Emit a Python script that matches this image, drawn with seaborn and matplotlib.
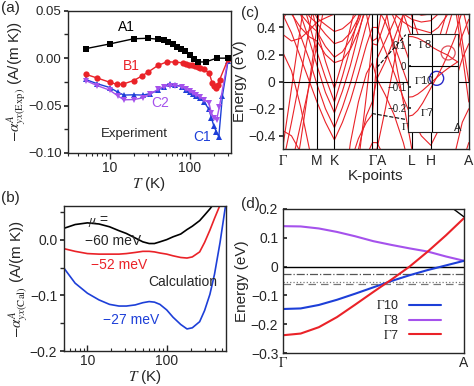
import matplotlib
matplotlib.use("Agg")
import matplotlib.pyplot as plt
from matplotlib.patches import Ellipse
from matplotlib.lines import Line2D
from matplotlib.ticker import FixedLocator, MultipleLocator, NullFormatter, LogLocator
import numpy as np
import seaborn as sns

# ─── (a) experiment ──────────────────────────────────────────────────────
T_A1 = [5, 10, 20, 30, 40, 47, 54, 62, 70, 78, 87, 100, 113, 127, 158, 216, 300]
A1 = [0.010, 0.015, 0.0205, 0.021, 0.020, 0.0187, 0.017, 0.015, 0.012, 0.0095,
      0.0074, 0.003, -0.0014, -0.004, -0.004, 0.0, 0.0]
T_B1 = [5, 7, 10, 12.5, 14.5, 20, 25, 30, 40, 52, 65, 82, 90, 98, 106, 115, 125,
        135, 150, 175, 190, 200, 210, 225, 235, 300]
B1 = [-0.017, -0.021, -0.0254, -0.0278, -0.0275, -0.0236, -0.019, -0.0148, -0.0077,
      -0.0038, -0.0042, -0.0049, -0.0058, -0.0068, -0.0075, -0.0085, -0.0092, -0.0100,
      -0.0115, -0.016, -0.026, -0.029, -0.031, -0.028, -0.023, -0.001]
T_C2 = [5, 7, 10, 12.7, 15, 20, 26, 32, 40, 47, 56, 65, 79, 90, 100, 110, 120, 135,
        150, 173, 186, 200, 216, 233, 300]
C2 = [-0.0236, -0.029, -0.0338, -0.040, -0.044, -0.0437, -0.0419, -0.038, -0.033,
      -0.030, -0.029, -0.029, -0.030, -0.033, -0.035, -0.037, -0.039, -0.041, -0.044,
      -0.047, -0.058, -0.063, -0.065, -0.052, -0.0006]
T_C1 = [5, 7, 10, 12.7, 15, 20, 26, 32, 40, 47, 56, 65, 79, 90, 100, 110, 120, 135,
        150, 173, 186, 200, 215, 230, 255, 300]
C1 = [-0.0225, -0.027, -0.031, -0.036, -0.039, -0.0387, -0.039, -0.0374, -0.034,
      -0.030, -0.027, -0.028, -0.030, -0.034, -0.036, -0.038, -0.040, -0.042, -0.046,
      -0.054, -0.063, -0.072, -0.078, -0.083, -0.040, -0.003]

# ─── (b) calculation ─────────────────────────────────────────────────────
T_CAL = [5, 7, 10, 14, 19, 25, 31, 40, 50, 60, 70, 82, 100, 120, 150, 180, 210,
         260, 300, 350, 400, 470, 550]
MU60 = [0.020, 0.027, 0.030, 0.028, 0.023, 0.016, 0.011, 0.003, -0.004, -0.007,
        -0.007, -0.004, 0.000, 0.005, 0.010, 0.018, 0.024, 0.034, 0.044, 0.055, 0.066,
        0.09, 0.12]
MU52 = [-0.016, -0.021, -0.025, -0.026, -0.026, -0.026, -0.025, -0.023, -0.021,
        -0.021, -0.022, -0.024, -0.026, -0.029, -0.032, -0.033, -0.031, -0.022,
        -0.005, 0.017, 0.038, 0.062, 0.09]
MU27 = [-0.050, -0.078, -0.096, -0.108, -0.116, -0.119, -0.119, -0.117, -0.113,
        -0.111, -0.112, -0.116, -0.126, -0.139, -0.152, -0.160, -0.158, -0.147,
        -0.127, -0.098, -0.062, -0.005, 0.06]

# ─── (c) band structure ──────────────────────────────────────────────────
K_NODES = [0, 9, 18, 27, 34.5, 43, 52, 60, 68, 76, 84, 90, 94.5, 103, 112, 121,
           129.5, 139, 148.5, 156, 164, 172, 180, 186.5]
K_TICKS = [0, 34.5, 52, 95, 129.5, 148.5, 186.5]
K_LINES = [34.5, 52, 90, 94.5, 129.5, 148.5]
K_LABELS = [r"$\Gamma$", "M", "K", r"$\Gamma$A", "L", "H", "A"]
BANDS = [
    # nested valleys at K (and H)
    [0.9, 0.9, 0.9, 0.6, 0.38, 0.15, -0.05, 0.15, 0.4, 0.65, 0.9, 0.9, 0.9, 0.9, 0.82, 0.66, 0.48, 0.28, 0.1, 0.3, 0.5, 0.68, 0.85, 0.9],
    [0.9, 0.9, 0.65, 0.42, 0.22, 0.03, -0.15, 0.04, 0.25, 0.48, 0.7, 0.85, 0.85, 0.84, 0.68, 0.5, 0.32, 0.12, -0.02, 0.16, 0.36, 0.56, 0.76, 0.9],
    [0.9, 0.7, 0.5, 0.3, 0.12, -0.08, -0.23, -0.07, 0.12, 0.35, 0.58, 0.75, 0.74, 0.62, 0.46, 0.28, 0.1, -0.1, -0.22, -0.06, 0.14, 0.34, 0.52, 0.66],
    [0.7, 0.52, 0.34, 0.16, -0.02, -0.2, -0.34, -0.19, -0.01, 0.2, 0.42, 0.55, 0.55, 0.44, 0.27, 0.08, -0.1, -0.27, -0.35, -0.22, -0.04, 0.15, 0.34, 0.46],
    [0.5, 0.36, 0.18, 0.0, -0.15, -0.3, -0.43, -0.3, -0.14, 0.06, 0.27, 0.4, 0.4, 0.23, 0.06, -0.12, -0.27, -0.4, -0.47, -0.36, -0.2, -0.02, 0.17, 0.28],
    # upper shelves
    [0.62, 0.5, 0.4, 0.33, 0.3, 0.2, 0.14, 0.16, 0.24, 0.37, 0.55, 0.7, 0.7, 0.6, 0.5, 0.44, 0.4, 0.38, 0.36, 0.4, 0.48, 0.6, 0.72, 0.8],
    [0.75, 0.62, 0.5, 0.42, 0.37, 0.26, 0.18, 0.22, 0.31, 0.44, 0.6, 0.8, 0.8, 0.7, 0.58, 0.5, 0.46, 0.44, 0.45, 0.5, 0.58, 0.7, 0.82, 0.9],
    [0.9, 0.78, 0.62, 0.48, 0.43, 0.35, 0.28, 0.3, 0.36, 0.47, 0.64, 0.9, 0.9, 0.82, 0.68, 0.58, 0.52, 0.49, 0.5, 0.56, 0.66, 0.8, 0.9, 0.9],
    [0.9, 0.9, 0.8, 0.58, 0.47, 0.42, 0.37, 0.39, 0.44, 0.52, 0.7, 0.9, 0.9, 0.9, 0.8, 0.66, 0.58, 0.55, 0.56, 0.62, 0.74, 0.9, 0.9, 0.9],
    [0.35, 0.3, 0.32, 0.38, 0.44, 0.47, 0.5, 0.55, 0.6, 0.7, 0.9, 0.9, 0.9, 0.9, 0.9, 0.9, 0.9, 0.9, 0.9, 0.9, 0.9, 0.9, 0.9, 0.9],
    # steep bands leaving Γ
    [-0.62, -0.3, 0.04, 0.4, 0.72, 0.9, 0.9, 0.9, 0.9, 0.9, 0.9, 0.9, 0.9, 0.9, 0.9, 0.9, 0.9, 0.9, 0.9, 0.9, 0.9, 0.6, 0.2, -0.15],
    [-0.9, -0.62, -0.32, -0.02, 0.28, 0.6, 0.9, 0.9, 0.9, 0.9, 0.9, 0.9, 0.9, 0.9, 0.9, 0.9, 0.9, 0.9, 0.9, 0.9, 0.9, 0.7, 0.3, 0.0],
    [-0.5, -0.05, 0.4, 0.85, 0.9, 0.9, 0.9, 0.9, 0.9, 0.9, 0.9, 0.9, 0.9, 0.9, 0.9, 0.9, 0.9, 0.9, 0.9, 0.9, 0.9, 0.9, 0.9, 0.9],
    [-0.9, -0.85, -0.45, 0.0, 0.4, 0.85, 0.9, 0.9, 0.9, 0.9, 0.9, 0.9, 0.9, 0.9, 0.9, 0.9, 0.9, 0.9, 0.9, 0.9, 0.9, 0.9, 0.9, 0.9],
    [-0.36, -0.4, -0.52, -0.72, -0.9, -0.9, -0.9, -0.9, -0.9, -0.9, -0.9, -0.9, -0.9, -0.9, -0.9, -0.9, -0.9, -0.9, -0.9, -0.9, -0.9, -0.55, -0.3, -0.2],
    [0.22, 0.08, -0.18, -0.5, -0.82, -0.9, -0.9, -0.9, -0.9, -0.9, -0.9, -0.9, -0.9, -0.9, -0.9, -0.9, -0.9, -0.9, -0.9, -0.9, -0.9, -0.9, -0.6, -0.45],
    [0.46, 0.56, 0.76, 0.9, 0.9, 0.9, 0.9, 0.9, 0.9, 0.9, 0.9, 0.9, 0.9, 0.9, 0.9, 0.9, 0.9, 0.9, 0.9, 0.9, 0.9, 0.9, 0.55, 0.35],
    # bands around Γ-A
    [-0.9, -0.9, -0.9, -0.9, -0.9, -0.9, -0.9, -0.9, -0.9, -0.6, -0.1, 0.3, 0.32, 0.7, 0.9, 0.9, 0.9, 0.9, 0.9, 0.9, 0.9, 0.9, 0.9, 0.9],
    [-0.9, -0.9, -0.9, -0.9, -0.9, -0.9, -0.9, -0.9, -0.9, -0.9, -0.6, -0.5, -0.5, -0.2, 0.15, 0.5, 0.9, 0.9, 0.9, 0.9, 0.9, 0.9, 0.9, 0.9],
    [0.9, 0.9, 0.9, 0.9, 0.9, 0.9, 0.9, 0.9, 0.9, 0.9, 0.5, 0.28, 0.27, 0.45, 0.7, 0.9, 0.9, 0.9, 0.9, 0.9, 0.9, 0.9, 0.9, 0.9],
    [-0.9, -0.9, -0.9, -0.9, -0.9, -0.9, -0.9, -0.9, -0.9, -0.8, -0.55, -0.45, -0.45, -0.57, -0.85, -0.9, -0.9, -0.9, -0.9, -0.9, -0.9, -0.9, -0.9, -0.9],
    [-0.9, -0.9, -0.9, -0.9, -0.9, -0.9, -0.9, -0.9, -0.45, -0.15, 0.06, 0.14, 0.02, -0.1, -0.25, -0.45, -0.7, -0.9, -0.9, -0.9, -0.9, -0.9, -0.9, -0.9],
    [-0.9, -0.9, -0.9, -0.9, -0.9, -0.9, -0.9, -0.9, -0.8, -0.5, -0.25, -0.147, 0.02, 0.15, 0.32, 0.5, 0.7, 0.9, 0.9, 0.9, 0.9, 0.9, 0.9, 0.9],
    [-0.9, -0.9, -0.9, -0.9, -0.9, -0.9, -0.9, -0.9, -0.6, -0.42, -0.3, -0.24, 0.168, 0.3, 0.45, 0.62, 0.9, 0.9, 0.9, 0.9, 0.9, 0.9, 0.9, 0.9],
    [0.9, 0.9, 0.9, 0.9, 0.9, 0.9, 0.9, 0.9, 0.9, 0.9, 0.9, 0.9, 0.9, 0.55, 0.2, -0.15, -0.5, -0.9, -0.9, -0.9, -0.9, -0.9, -0.9, -0.9],
]

# ─── (d) bands along Γ-A ─────────────────────────────────────────────────
K_GA = [0, 0.1, 0.2, 0.3, 0.4, 0.5, 0.6, 0.7, 0.8, 0.9, 1.0]
G8 = [0.140, 0.139, 0.132, 0.120, 0.105, 0.088, 0.075, 0.063, 0.052, 0.035, 0.020]
G10 = [-0.147, -0.145, -0.133, -0.115, -0.094, -0.072, -0.050, -0.030, -0.012, 0.004, 0.020]
G7 = [-0.238, -0.232, -0.210, -0.175, -0.132, -0.088, -0.045, 0.000, 0.052, 0.108, 0.168]
K_TOP = [0.93, 1.0]
E_TOP = [0.205, 0.172]
MU_LEVELS = [-0.027, -0.052, -0.060]

RED = "#ea2228"
BLUE = "#1d3fd8"
PURPLE = "#a552ec"

sns.set_theme(style="ticks")
plt.rcParams["font.family"] = ["Liberation Sans", "DejaVu Sans"]
plt.rcParams["mathtext.fontset"] = "stix"
plt.rcParams["axes.linewidth"] = 1.0
plt.rcParams["xtick.labelsize"] = 10
plt.rcParams["ytick.labelsize"] = 10
plt.rcParams["axes.labelsize"] = 11

fig = plt.figure(figsize=(4.74, 3.86), dpi=100)
ax_a = fig.add_axes([0.143, 0.604, 0.344, 0.368])
ax_b = fig.add_axes([0.134, 0.090, 0.343, 0.376])
ax_c = fig.add_axes([0.596, 0.613, 0.393, 0.351])
ax_d = fig.add_axes([0.596, 0.085, 0.383, 0.374])
ax_in = fig.add_axes([0.860, 0.659, 0.1055, 0.252])
ax_in.set_zorder(5)


def log_axis(ax, lo, hi, direction):
    ax.set_xscale("log")
    ax.set_xlim(lo, hi)
    ax.xaxis.set_major_locator(FixedLocator([10, 100]))
    ax.set_xticklabels(["10", "100"])
    ax.xaxis.set_minor_locator(LogLocator(base=10, subs=np.arange(2, 10)))
    ax.xaxis.set_minor_formatter(NullFormatter())
    ax.tick_params(axis="x", which="major", direction=direction, length=4, width=1, pad=2)
    ax.tick_params(axis="x", which="minor", direction=direction, length=2.5, width=0.8)


# (a)
series_a = [(T_C1, C1, BLUE, "^"), (T_C2, C2, PURPLE, "v"),
            (T_B1, B1, RED, "o"), (T_A1, A1, "black", "s")]
for tx, vals, col, mk in series_a:
    sns.lineplot(x=tx, y=vals, ax=ax_a, color=col, marker=mk, markersize=4.5,
                 markeredgewidth=0, linewidth=1)
log_axis(ax_a, 3, 325, "out")
ax_a.set_ylim(-0.10, 0.05)
ax_a.set_yticks([0.05, 0.0, -0.05, -0.10])
ax_a.set_yticklabels(["0.05", "0.00", "\u22120.05", "\u22120.10"])
ax_a.yaxis.set_minor_locator(MultipleLocator(0.025))
ax_a.tick_params(axis="y", which="both", direction="out", length=3, pad=1.5, labelsize=9.5)
ax_a.set_xlabel(r"$T$ (K)", labelpad=0)
ax_a.set_ylabel(r"$-\alpha^{A}_{yx(\mathrm{Exp})}$ (A/(m K))", fontsize=11, labelpad=0)
ax_a.text(0.31, 0.86, "A1", transform=ax_a.transAxes, fontsize=10, color="black")
ax_a.text(0.34, 0.58, "B1", transform=ax_a.transAxes, fontsize=10, color=RED)
ax_a.text(0.51, 0.32, "C2", transform=ax_a.transAxes, fontsize=10, color=PURPLE)
ax_a.text(0.77, 0.08, "C1", transform=ax_a.transAxes, fontsize=10, color=BLUE)
ax_a.text(0.2, 0.11, "Experiment", transform=ax_a.transAxes, fontsize=9.5)

# (b)
for vals, col in [(MU60, "black"), (MU52, RED), (MU27, BLUE)]:
    sns.lineplot(x=T_CAL, y=vals, ax=ax_b, color=col, linewidth=1.2)
log_axis(ax_b, 5, 560, "in")
ax_b.set_ylim(-0.2, 0.06)
ax_b.set_yticks([0.0, -0.1, -0.2])
ax_b.set_yticklabels(["0.0", "\u22120.1", "\u22120.2"])
ax_b.yaxis.set_minor_locator(MultipleLocator(0.05))
ax_b.tick_params(axis="y", which="both", direction="out", length=3, pad=1.5)
ax_b.set_xlabel(r"$T$ (K)", labelpad=0)
ax_b.set_ylabel(r"$-\alpha^{A}_{yx(\mathrm{Cal})}$ (A/(m K))", fontsize=11, labelpad=0)
ax_b.text(0.15, 0.88, r"$\mu$ =", transform=ax_b.transAxes, fontsize=10)
ax_b.text(0.13, 0.73, "\u221260 meV", transform=ax_b.transAxes, fontsize=10)
ax_b.text(0.17, 0.57, "\u221252 meV", transform=ax_b.transAxes, fontsize=10, color=RED)
ax_b.text(0.52, 0.45, "Calculation", transform=ax_b.transAxes, fontsize=10)
ax_b.text(0.24, 0.19, "\u221227 meV", transform=ax_b.transAxes, fontsize=10, color=BLUE)

# (c)
for band in BANDS:
    ax_c.plot(K_NODES, band, color=RED, linewidth=0.8)
for kx in K_LINES:
    ax_c.axvline(kx, color="black", linewidth=0.8)
ax_c.axhline(0, color="black", linewidth=0.8)
ax_c.set_xlim(0, 186.5)
ax_c.set_ylim(-0.5, 0.5)
ax_c.set_xticks(K_TICKS)
ax_c.set_xticklabels(K_LABELS)
ax_c.tick_params(axis="x", length=0, pad=3)
ax_c.set_yticks([0.4, 0.2, 0.0, -0.2, -0.4])
ax_c.set_yticklabels(["0.4", "0.2", "0", "\u22120.2", "\u22120.4"])
ax_c.tick_params(axis="y", direction="out", length=3, pad=2)
ax_c.set_xlabel("K-points", labelpad=1)
ax_c.set_ylabel("Energy (eV)", labelpad=1)
ax_c.plot([94.5, 123.4], [0.104, 0.347], color="black", linestyle="--",
          linewidth=0.8, clip_on=False, zorder=4)
ax_c.plot([89.5, 123.4], [-0.235, -0.279], color="black", linestyle="--",
          linewidth=0.8, clip_on=False, zorder=4)

# inset
ax_in.set_facecolor("white")
for vals in (G8, G10, G7):
    ax_in.plot(K_GA, vals, color=RED, linewidth=0.8)
ax_in.axhline(0, color="black", linewidth=0.8)
ax_in.axvline(0.48, color="black", linewidth=0.8)
ax_in.set_xlim(0, 1)
ax_in.set_ylim(-0.31, 0.15)
ax_in.set_xticks([])
ax_in.set_yticks([0.1, 0.0, -0.1, -0.2])
ax_in.set_yticklabels(["0.1", "0", "\u22120.1", "\u22120.2"])
ax_in.tick_params(axis="y", direction="in", length=2, labelsize=7, pad=1)
for sp in ax_in.spines.values():
    sp.set_linewidth(0.8)
ax_in.add_patch(Ellipse((0.81, 0.062), 0.28, 0.066, fill=False, edgecolor="#e0505a", linewidth=0.9))
ax_in.add_patch(Ellipse((0.58, -0.058), 0.28, 0.066, fill=False, edgecolor="#2a2ac8", linewidth=1.0))
ax_in.text(0.2, 0.9, r"$\Gamma$8", transform=ax_in.transAxes, fontsize=8, va="center")
ax_in.text(0.12, 0.53, r"$\Gamma$10", transform=ax_in.transAxes, fontsize=8, va="center")
ax_in.text(0.24, 0.2, r"$\Gamma$7", transform=ax_in.transAxes, fontsize=8, va="center")
ax_in.text(-0.04, 0.05, r"$\Gamma$", transform=ax_in.transAxes, fontsize=8, ha="center", va="center")
ax_in.text(1.0, 0.04, "A", transform=ax_in.transAxes, fontsize=8, ha="center", va="center")

# (d)
sns.lineplot(x=K_TOP, y=E_TOP, ax=ax_d, color="black", linewidth=1)
for lev, ls, col in zip(MU_LEVELS, ["-.", ":", (0, (6, 4))], ["#555555", "#777777", "#777777"]):
    ax_d.axhline(lev, color=col, linestyle=ls, linewidth=0.9)
ax_d.axhline(0, color="black", linewidth=1)
for vals, col in [(G8, PURPLE), (G10, BLUE), (G7, RED)]:
    sns.lineplot(x=K_GA, y=vals, ax=ax_d, color=col, linewidth=1.5)
ax_d.set_xlim(0, 1)
ax_d.set_ylim(-0.3, 0.2)
ax_d.set_xticks([0, 1])
ax_d.set_xticklabels([r"$\Gamma$", "A"])
ax_d.tick_params(axis="x", length=0, pad=2)
ax_d.set_yticks([0.2, 0.1, 0.0, -0.1, -0.2, -0.3])
ax_d.set_yticklabels(["0.2", "0.1", "0", "\u22120.1", "\u22120.2", "\u22120.3"])
ax_d.tick_params(axis="y", direction="in", length=3, pad=3)
ax_d.set_ylabel("Energy (eV)", labelpad=1)
handles = [Line2D([], [], color=BLUE, linewidth=1.5),
           Line2D([], [], color=PURPLE, linewidth=1.5),
           Line2D([], [], color=RED, linewidth=1.5)]
ax_d.legend(handles, [r"$\Gamma$10", r"$\Gamma$8", r"$\Gamma$7"], loc="lower right",
            bbox_to_anchor=(0.88, 0.07), borderaxespad=0, frameon=False,
            markerfirst=False, fontsize=9, handlelength=2.6, labelspacing=0.15,
            borderpad=0.1)

# panel labels
fig.text(0.003, 0.998, "(a)", fontsize=11, va="top")
fig.text(0.003, 0.505, "(b)", fontsize=11, va="top")
fig.text(0.508, 0.985, "(c)", fontsize=11, va="top")
fig.text(0.508, 0.490, "(d)", fontsize=11, va="top")

fig.savefig("out.png", dpi=100)
